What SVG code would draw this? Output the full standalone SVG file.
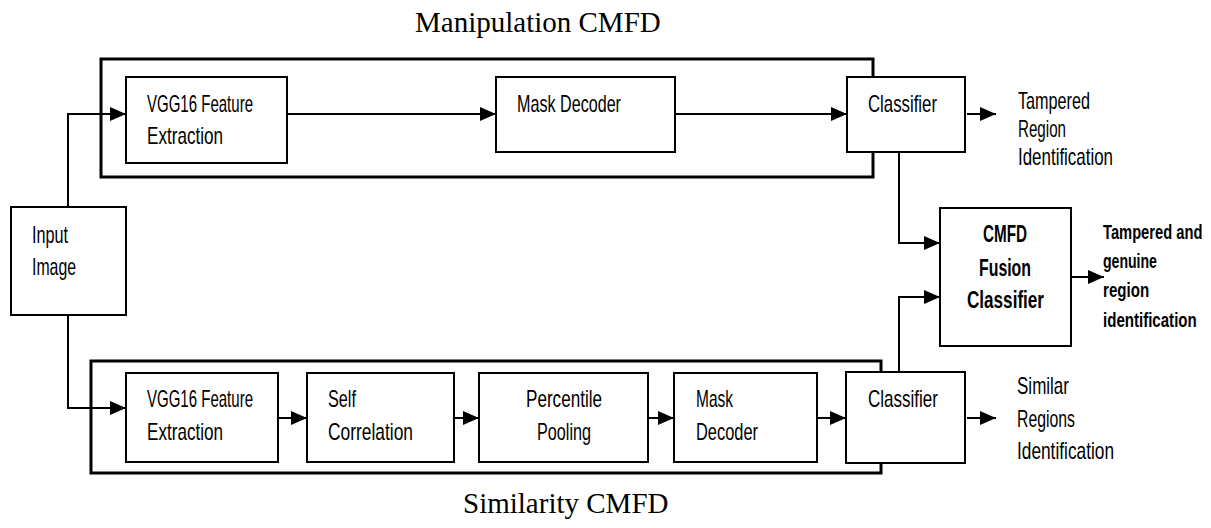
<svg xmlns="http://www.w3.org/2000/svg" width="1211" height="528" viewBox="0 0 1211 528">
  <style>
    .frame { fill: none; stroke: #000; stroke-width: 3; }
    .box { fill: #fff; stroke: #000; stroke-width: 2; }
    .lbl { font-family: "Liberation Sans", Arial, sans-serif; font-size: 24px; fill: #000; }
    .bold { font-family: "Liberation Sans", Arial, sans-serif; font-weight: bold; fill: #000; }
    .title { font-family: "Liberation Serif", "Times New Roman", serif; font-size: 29px; fill: #000; }
    .wire { fill: none; stroke: #000; stroke-width: 2; marker-end: url(#arrow); }
  </style>
  <defs>
    <marker id="arrow" markerUnits="userSpaceOnUse" markerWidth="16" markerHeight="14" refX="16" refY="7" orient="auto">
      <path d="M0,0 L16,7 L0,14 z" fill="#000"/>
    </marker>
  </defs>

  <rect width="1211" height="528" fill="#fff"/>

  <!-- section titles -->
  <text class="title" x="415" y="32">Manipulation CMFD</text>
  <text class="title" x="463" y="513">Similarity CMFD</text>

  <!-- pipeline frames -->
  <g id="manipulation-frame">
    <rect class="frame" x="101" y="59" width="772" height="118"/>
  </g>
  <g id="similarity-frame">
    <rect class="frame" x="91" y="361" width="790" height="112"/>
  </g>

  <!-- connectors -->
  <g id="connectors">
    <path class="wire" d="M68,207 V114 H126"/>
    <path class="wire" d="M68,315 V408 H126"/>
    <path class="wire" d="M287,114 H496"/>
    <path class="wire" d="M675,114 H847"/>
    <path class="wire" d="M967,114 H996"/>
    <path class="wire" d="M899,152 V243 H940"/>
    <path class="wire" d="M278,418 H307"/>
    <path class="wire" d="M454,418 H479"/>
    <path class="wire" d="M647,418 H674"/>
    <path class="wire" d="M817,418 H846"/>
    <path class="wire" d="M967,418 H996"/>
    <path class="wire" d="M899,372 V297 H940"/>
    <path class="wire" d="M1071,277 H1104"/>
  </g>

  <g id="input-image">
    <rect class="box" x="11" y="207" width="115" height="108"/>
    <text class="lbl" x="32" y="243" textLength="36" lengthAdjust="spacingAndGlyphs">Input</text>
    <text class="lbl" x="32" y="275" textLength="44" lengthAdjust="spacingAndGlyphs">Image</text>
  </g>

  <!-- manipulation branch -->
  <g id="m-vgg16">
    <rect class="box" x="126" y="77" width="161" height="86"/>
    <text class="lbl" x="147" y="112" textLength="106" lengthAdjust="spacingAndGlyphs">VGG16 Feature</text>
    <text class="lbl" x="147" y="144" textLength="76" lengthAdjust="spacingAndGlyphs">Extraction</text>
  </g>
  <g id="m-mask-decoder">
    <rect class="box" x="496" y="77" width="179" height="75"/>
    <text class="lbl" x="517" y="112" textLength="104" lengthAdjust="spacingAndGlyphs">Mask Decoder</text>
  </g>
  <g id="m-classifier">
    <rect class="box" x="847" y="77" width="118" height="75"/>
    <text class="lbl" x="868" y="112" textLength="69" lengthAdjust="spacingAndGlyphs">Classifier</text>
  </g>
  <g id="m-output">
    <text class="lbl" x="1018" y="109" textLength="72" lengthAdjust="spacingAndGlyphs">Tampered</text>
    <text class="lbl" x="1018" y="137" textLength="48" lengthAdjust="spacingAndGlyphs">Region</text>
    <text class="lbl" x="1018" y="165" textLength="95" lengthAdjust="spacingAndGlyphs">Identification</text>
  </g>

  <!-- similarity branch -->
  <g id="s-vgg16">
    <rect class="box" x="126" y="373" width="152" height="89"/>
    <text class="lbl" x="147" y="407" textLength="106" lengthAdjust="spacingAndGlyphs">VGG16 Feature</text>
    <text class="lbl" x="147" y="440" textLength="76" lengthAdjust="spacingAndGlyphs">Extraction</text>
  </g>
  <g id="s-self-correlation">
    <rect class="box" x="307" y="373" width="147" height="89"/>
    <text class="lbl" x="328" y="407" textLength="28" lengthAdjust="spacingAndGlyphs">Self</text>
    <text class="lbl" x="328" y="440" textLength="85" lengthAdjust="spacingAndGlyphs">Correlation</text>
  </g>
  <g id="s-percentile-pooling">
    <rect class="box" x="479" y="373" width="169" height="89"/>
    <text class="lbl" x="526" y="407" textLength="76" lengthAdjust="spacingAndGlyphs">Percentile</text>
    <text class="lbl" x="537" y="440" textLength="54" lengthAdjust="spacingAndGlyphs">Pooling</text>
  </g>
  <g id="s-mask-decoder">
    <rect class="box" x="674" y="373" width="143" height="89"/>
    <text class="lbl" x="696" y="407" textLength="37" lengthAdjust="spacingAndGlyphs">Mask</text>
    <text class="lbl" x="696" y="440" textLength="62" lengthAdjust="spacingAndGlyphs">Decoder</text>
  </g>
  <g id="s-classifier">
    <rect class="box" x="846" y="372" width="119" height="91"/>
    <text class="lbl" x="868" y="407" textLength="70" lengthAdjust="spacingAndGlyphs">Classifier</text>
  </g>
  <g id="s-output">
    <text class="lbl" x="1017" y="394" textLength="52" lengthAdjust="spacingAndGlyphs">Similar</text>
    <text class="lbl" x="1017" y="427" textLength="58" lengthAdjust="spacingAndGlyphs">Regions</text>
    <text class="lbl" x="1017" y="459" textLength="97" lengthAdjust="spacingAndGlyphs">Identification</text>
  </g>

  <!-- fusion stage -->
  <g id="fusion-classifier">
    <rect class="box" x="940" y="208" width="131" height="138"/>
    <text class="bold" font-size="24" x="983" y="242" textLength="44" lengthAdjust="spacingAndGlyphs">CMFD</text>
    <text class="bold" font-size="24" x="979" y="276" textLength="52" lengthAdjust="spacingAndGlyphs">Fusion</text>
    <text class="bold" font-size="24" x="967" y="308" textLength="77" lengthAdjust="spacingAndGlyphs">Classifier</text>
  </g>
  <!-- narrow bold caption: condensed horizontally so it stays inside the right margin -->
  <g id="fusion-output" transform="translate(1103 0) scale(0.71 1)">
    <text class="bold" font-size="21" x="0" y="239" textLength="140" lengthAdjust="spacingAndGlyphs">Tampered and</text>
    <text class="bold" font-size="21" x="0" y="268" textLength="76" lengthAdjust="spacingAndGlyphs">genuine</text>
    <text class="bold" font-size="21" x="0" y="297" textLength="65" lengthAdjust="spacingAndGlyphs">region</text>
    <text class="bold" font-size="21" x="0" y="327" textLength="132" lengthAdjust="spacingAndGlyphs">identification</text>
  </g>
</svg>
